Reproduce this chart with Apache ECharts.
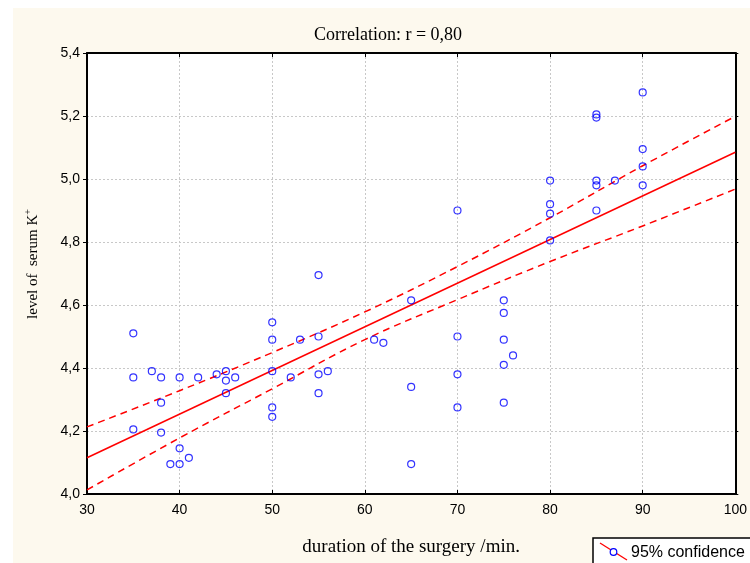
<!DOCTYPE html>
<html>
<head>
<meta charset="utf-8">
<script src="https://cdn.jsdelivr.net/npm/echarts@6/dist/echarts.min.js"></script>
<style>html,body{margin:0;padding:0;background:#fff;}#c{width:750px;height:563px;}</style>
</head>
<body>
<div id="c"></div>
<script>
// Data
var xValues = [35,37,35,38,40,42,44,45,45,46,45,38,35,38,40,41,39,40,
  50,50,50,50,50,52,53,55,55,55,56,55,61,62,
  65,65,65,70,70,70,70,75,75,75,76,75,75,
  80,80,80,80,85,85,85,85,85,87,90,90,90,90];
var yValues = [4.51,4.39,4.37,4.37,4.37,4.37,4.38,4.39,4.36,4.37,4.32,4.29,4.205,4.195,4.145,4.115,4.095,4.095,
  4.545,4.49,4.39,4.275,4.245,4.37,4.49,4.695,4.50,4.38,4.39,4.32,4.49,4.48,
  4.615,4.34,4.095,4.90,4.50,4.38,4.275,4.615,4.575,4.49,4.44,4.41,4.29,
  4.995,4.92,4.89,4.805,5.205,5.195,4.995,4.98,4.90,4.995,5.275,5.095,5.04,4.98];
var fitX = [30, 100];
var fitY = [4.115, 5.085];
var bandX = [30,40,50,60,70,80,90,100];
var upperY = [4.213,4.328,4.449,4.578,4.722,4.877,5.042,5.199];
var lowerY = [4.013,4.178,4.334,4.49,4.617,4.738,4.851,4.968];
var xTicks = [30,40,50,60,70,80,90,100];
var yTicks = [4.0,4.2,4.4,4.6,4.8,5.0,5.2,5.4];
var titleText = 'Correlation: r = 0,80';
var xName = 'duration of the surgery /min.';
var yName = 'level of  serum K';
var legendText = '95% confidence';

function zip(a,b){return a.map(function(v,i){return [v,b[i]];});}
var serif = '"Liberation Serif", "Times New Roman", serif';
var sans = '"Liberation Sans", Arial, sans-serif';
var chart = echarts.init(document.getElementById('c'));
chart.setOption({
  animation:false,
  backgroundColor:'#ffffff',
  graphic:[
    {type:'rect', z:-10, shape:{x:13,y:8,width:737,height:555}, style:{fill:'#fdf9ee'}},
    {type:'rect', z:-9, shape:{x:87,y:53,width:649,height:441}, style:{fill:'#ffffff'}},
    {type:'text', z:10, x:33, y:264, rotation:Math.PI/2,
      style:{text:'{a|'+yName+'}{s|+}', align:'center', verticalAlign:'middle',
        rich:{a:{fontFamily:serif, fontSize:15, fill:'#000'},
              s:{fontFamily:serif, fontSize:10, fill:'#000', padding:[0,0,9,0]}}}},
    {type:'rect', z:10, shape:{x:593,y:538,width:170,height:40}, style:{fill:'#ffffff',stroke:'#000',lineWidth:1.5}},
    {type:'line', z:11, shape:{x1:600,y1:543,x2:627,y2:560}, style:{stroke:'#ff0000',lineWidth:1.3}},
    {type:'circle', z:12, shape:{cx:613.5,cy:552,r:3.3}, style:{fill:'#ffffff',stroke:'#0000ff',lineWidth:1.2}},
    {type:'text', z:12, style:{x:631,y:553,text:legendText,fill:'#000',font:'16px "Liberation Sans", Arial, sans-serif',textVerticalAlign:'middle'}}
  ],
  title:{text:titleText, left:309, top:21, textStyle:{fontFamily:serif, fontWeight:'normal', fontSize:18, color:'#000'}},
  grid:{left:87, top:53, width:649, height:441},
  xAxis:[{
    type:'value', min:30, max:100, interval:10, position:'bottom',
    name:xName, nameLocation:'middle', nameGap:44,
    nameTextStyle:{fontFamily:serif, fontSize:19, color:'#000'},
    axisLine:{onZero:false, lineStyle:{color:'#000', width:2}},
    axisTick:{inside:true, length:4, lineStyle:{color:'#000'}},
    axisLabel:{margin:9, color:'#000', fontSize:14, fontFamily:sans,
      formatter:function(v){return xTicks.indexOf(v)>=0?String(v):'';}},
    splitLine:{show:true, lineStyle:{color:'#c8c8c8', type:[2,2], width:1}}
  },{
    type:'value', min:30, max:100, interval:10, position:'top',
    axisLine:{onZero:false, lineStyle:{color:'#000', width:2}},
    axisTick:{inside:true, length:4, lineStyle:{color:'#000'}},
    axisLabel:{show:false}, splitLine:{show:false}
  }],
  yAxis:[{
    type:'value', min:4.0, max:5.4, interval:0.2, position:'left',
    axisLine:{onZero:false, lineStyle:{color:'#000', width:2}},
    axisTick:{inside:false, length:4, lineStyle:{color:'#000'}},
    axisLabel:{margin:7, color:'#000', fontSize:14, fontFamily:sans,
      formatter:function(v){return v.toFixed(1).replace('.',',');}},
    splitLine:{show:true, lineStyle:{color:'#c8c8c8', type:[2,2], width:1}}
  },{
    type:'value', min:4.0, max:5.4, interval:0.2, position:'right',
    axisLine:{onZero:false, lineStyle:{color:'#000', width:2}},
    axisTick:{inside:false, length:3, lineStyle:{color:'#000'}},
    axisLabel:{show:false}, splitLine:{show:false}
  }],
  series:[
    {type:'line', data:zip(bandX, upperY), smooth:0.4, symbol:'none', lineStyle:{color:'#ff0000', width:1.5, type:[7,5]}, z:3},
    {type:'line', data:zip(bandX, lowerY), smooth:0.4, symbol:'none', lineStyle:{color:'#ff0000', width:1.5, type:[7,5]}, z:3},
    {type:'line', data:zip(fitX, fitY), symbol:'none', lineStyle:{color:'#ff0000', width:1.5}, z:3},
    {type:'scatter', data:zip(xValues, yValues), symbol:'circle', symbolSize:7,
      itemStyle:{color:'rgba(255,255,255,0)', borderColor:'#0000ff', borderWidth:1.2}, z:4}
  ]
});
</script>
</body>
</html>
